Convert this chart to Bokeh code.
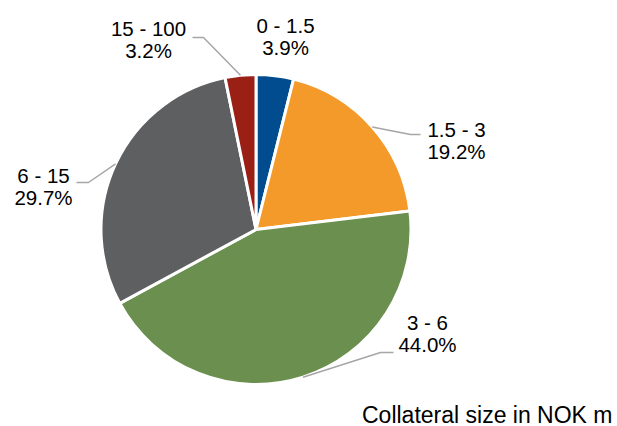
import math
from bokeh.plotting import figure
from bokeh.models import Range1d, ColumnDataSource
from bokeh.core.properties import value
from bokeh.embed import file_html
from bokeh.resources import INLINE

# ---- data ----
categories = ["0 - 1.5", "1.5 - 3", "3 - 6", "6 - 15", "15 - 100"]
shares = [3.9, 19.2, 44.0, 29.7, 3.2]
colors = ["#004C8F", "#F39A2B", "#6B8F4F", "#5E5F61", "#9A1F14"]
title_text = "Collateral size in NOK m"

# ---- layout (page pixel coords -> plot coords) ----
W, H = 617, 426


def px(x):
    return x


def py(y):
    return H - y


cx, cy, R = px(255.5), py(229), 155

# label centres (line 1), elbow points for leader lines (None = no leader)
label_pos = [(285, 25), (456, 129), (427, 322), (43, 175), (148, 28)]
line_gap = 22
elbows = [None, [(410, 134), (420, 134)], [(380, 352), (393, 352)],
          [(88, 182), (76, 182)], [(203, 37), (192, 37)]]

p = figure(width=W, height=H, output_backend="svg", toolbar_location=None,
           x_range=Range1d(0, W), y_range=Range1d(0, H), min_border=0)
p.axis.visible = False
p.grid.visible = False
p.outline_line_color = None
p.background_fill_color = "white"

total = sum(shares)
starts, ends, mids = [], [], []
cum = 0.0
for s in shares:
    a0 = math.pi / 2 - 2 * math.pi * (cum + s) / total
    a1 = math.pi / 2 - 2 * math.pi * cum / total
    starts.append(a0)
    ends.append(a1)
    mids.append((a0 + a1) / 2)
    cum += s

src = ColumnDataSource(dict(x=[cx] * len(shares), y=[cy] * len(shares),
                            start=starts, end=ends, color=colors))
p.wedge(x="x", y="y", radius=R, start_angle="start", end_angle="end",
        fill_color="color", line_color="white", line_width=3, source=src)

# leader lines
for i, el in enumerate(elbows):
    if el is None:
        continue
    ax = cx + R * math.cos(mids[i])
    ay = cy + R * math.sin(mids[i])
    xs = [ax] + [px(e[0]) for e in el]
    ys = [ay] + [py(e[1]) for e in el]
    p.line(xs, ys, line_color="#A6A6A6", line_width=1.5)

# labels
for i, cat in enumerate(categories):
    lx, ly = label_pos[i]
    p.text(x=[px(lx)], y=[py(ly)], text=[cat], text_align="center",
           text_baseline="middle", text_font=value("Liberation Sans"),
           text_font_size="20.5px", text_color="#000000")
    p.text(x=[px(lx)], y=[py(ly + line_gap)], text=[f"{shares[i]:.1f}%"],
           text_align="center", text_baseline="middle",
           text_font=value("Liberation Sans"), text_font_size="20.5px",
           text_color="#000000")

p.text(x=[px(612)], y=[py(414)], text=[title_text], text_align="right",
       text_baseline="middle", text_font=value("Liberation Sans"),
       text_font_size="23px", text_color="#000000")

open("out.html", "w").write(file_html(p, INLINE))
